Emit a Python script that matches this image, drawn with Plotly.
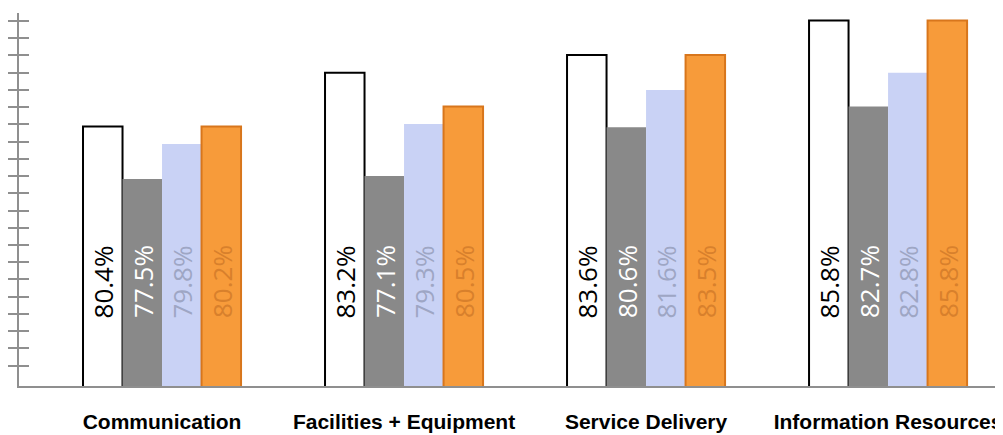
import plotly.graph_objects as go

categories = ["Communication", "Facilities + Equipment", "Service Delivery", "Information Resources"]

# bar heights (tick units, ticks at whole numbers)
series_1 = [79.87, 83.0, 84.03, 86.02]
series_2 = [76.83, 77.0, 79.83, 81.03]
series_3 = [78.86, 80.02, 82.0, 83.0]
series_4 = [79.87, 81.03, 84.03, 86.02]

# printed data labels
labels_1 = ["80.4%", "83.2%", "83.6%", "85.8%"]
labels_2 = ["77.5%", "77.1%", "80.6%", "82.7%"]
labels_3 = ["79.8%", "79.3%", "81.6%", "82.8%"]
labels_4 = ["80.2%", "80.5%", "83.5%", "85.8%"]

y_ticks = list(range(66, 87))

series = [series_1, series_2, series_3, series_4]
labels = [labels_1, labels_2, labels_3, labels_4]
fills = ["#ffffff", "#898989", "#c9d2f5", "#f79b3a"]
borders = ["#000000", "#898989", "#c9d2f5", "#d8761c"]
border_w = [2, 0, 0, 2]
label_colors = ["#000000", "#ffffff", "#9ea6c4", "#d8802c"]

Y_MIN, Y_MAX = 64.82, 86.46
LABEL_Y = 70.87
BARGAP = 0.347
bar_w = (1 - BARGAP) / 4

fig = go.Figure()
for j, vals in enumerate(series):
    fig.add_trace(go.Bar(
        x=categories, y=vals, name=f"Series {j+1}",
        marker=dict(color=fills[j], line=dict(color=borders[j], width=border_w[j])),
        showlegend=False, hoverinfo="skip",
    ))

annotations = []
for j, labs in enumerate(labels):
    for i, t in enumerate(labs):
        annotations.append(dict(
            x=i + (j - 1.5) * bar_w, y=LABEL_Y, xref="x", yref="y",
            text=t, showarrow=False, textangle=-90,
            xanchor="center", yanchor="middle",
            font=dict(family="Open Sans", size=26, color=label_colors[j]),
        ))

fig.add_trace(go.Scatter(x=[], y=[], yaxis="y2", showlegend=False))

axis_grey = "#8f8f8f"
fig.update_layout(
    width=1003, height=435,
    margin=dict(l=11, r=0, t=5, b=57, autoexpand=False),
    paper_bgcolor="white", plot_bgcolor="white",
    barmode="group", bargap=BARGAP, bargroupgap=0,
    annotations=annotations,
    xaxis=dict(
        type="category", range=[-0.591, 3.508],
        showline=True, linecolor=axis_grey, linewidth=2,
        ticks="", showgrid=False, zeroline=False, automargin=False,
        tickfont=dict(family="Liberation Sans", size=21, color="#000000", weight="bold"),
        ticklabelstandoff=16,
    ),
    yaxis=dict(
        range=[Y_MIN, Y_MAX], showline=True, linecolor=axis_grey, linewidth=2,
        tickmode="array", tickvals=y_ticks, ticks="outside", ticklen=10,
        tickwidth=2, tickcolor=axis_grey, showticklabels=False,
        showgrid=False, zeroline=False, automargin=False,
    ),
    yaxis2=dict(
        range=[Y_MIN, Y_MAX], overlaying="y", anchor="x", side="left",
        tickmode="array", tickvals=y_ticks, ticks="inside", ticklen=10,
        tickwidth=2, tickcolor=axis_grey, showticklabels=False,
        showline=False, showgrid=False, zeroline=False,
    ),
)

fig.write_html("out.html")
